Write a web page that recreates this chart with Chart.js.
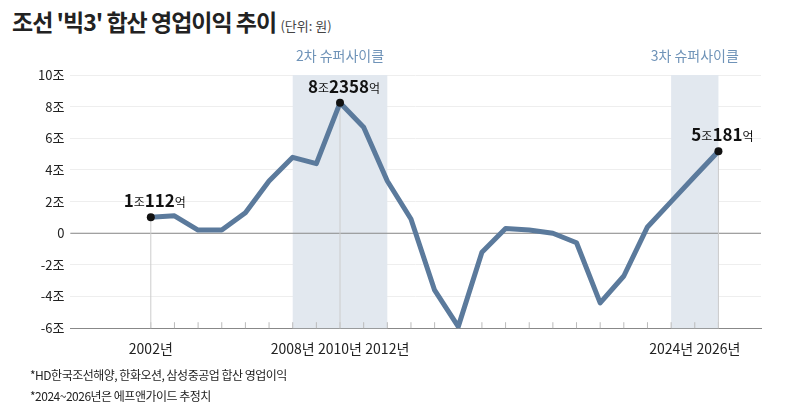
<!DOCTYPE html>
<html><head><meta charset="utf-8">
<script src="https://cdn.jsdelivr.net/npm/chart.js@4"></script>
<style>
body{margin:0;background:#fff;font-family:"Noto Sans CJK KR","Noto Sans",sans-serif;}
#wrap{position:relative;width:801px;height:420px;}
#title{position:absolute;left:12px;top:4px;font-size:23px;font-weight:bold;color:#222;letter-spacing:-1px}
#title span{font-size:13px;font-weight:normal;color:#444;letter-spacing:0}
.note{position:absolute;left:30px;font-size:12px;color:#222;letter-spacing:-0.5px}
canvas{position:absolute;left:0;top:0}
</style></head><body>
<div id="wrap">
<div id="title">조선 '빅3' 합산 영업이익 추이 <span>(단위: 원)</span></div>
<canvas id="c" width="801" height="420"></canvas>
<div class="note" style="top:366px">*HD한국조선해양, 한화오션, 삼성중공업 합산 영업이익</div>
<div class="note" style="top:387px">*2024~2026년은 에프앤가이드 추정치</div>
</div>
<script>
// 연도별 합산 영업이익 (조원)
var years = [2002,2003,2004,2005,2006,2007,2008,2009,2010,2011,2012,2013,2014,2015,2016,2017,2018,2019,2020,2021,2022,2023,2024,2025,2026];
var profits = [1.01,1.1,0.2,0.2,1.3,3.3,4.8,4.4,8.24,6.7,3.3,0.9,-3.6,-5.9,-1.2,0.3,0.2,0.0,-0.6,-4.4,-2.7,0.4,2.0,3.6,5.18];
var xLabels = [2002,2008,2010,2012,2024,2026];
var yTicks = [10,8,6,4,2,0,-2,-4,-6];
var bands = [[2008,2012,'2차 슈퍼사이클'],[2024,2026,'3차 슈퍼사이클']];
var callouts = [[2002,'1','조','112','억'],[2010,'8','조','2358','억'],[2026,'5','조','181','억']];

var deco = {
  id:'deco',
  beforeDatasetsDraw: function(chart){
    var ctx = chart.ctx, x = chart.scales.x, y = chart.scales.y, a = chart.chartArea;
    ctx.save();
    bands.forEach(function(b){
      var x0 = x.getPixelForValue(b[0]), x1 = x.getPixelForValue(b[1]);
      ctx.fillStyle = '#e2e8ef';
      ctx.fillRect(x0, y.getPixelForValue(10), x1-x0, y.getPixelForValue(-6)-y.getPixelForValue(10));
      ctx.fillStyle = '#6f93b8';
      ctx.font = '14px "Noto Sans CJK KR"';
      ctx.textAlign = 'center';
      ctx.fillText(b[2], (x0+x1)/2, y.getPixelForValue(10)-14);
    });
    // zero line
    ctx.strokeStyle = '#888'; ctx.lineWidth = 1;
    ctx.beginPath(); ctx.moveTo(a.left, y.getPixelForValue(0)); ctx.lineTo(a.right, y.getPixelForValue(0)); ctx.stroke();
    // year ticks on bottom axis
    ctx.strokeStyle = '#bbb';
    years.forEach(function(v){
      var px = x.getPixelForValue(v);
      ctx.beginPath(); ctx.moveTo(px, a.bottom); ctx.lineTo(px, a.bottom-6); ctx.stroke();
    });
    callouts.forEach(function(c){
      var i = years.indexOf(c[0]), px = x.getPixelForValue(c[0]), py = y.getPixelForValue(profits[i]);
      ctx.strokeStyle = '#ccc';
      ctx.beginPath(); ctx.moveTo(px, py); ctx.lineTo(px, a.bottom); ctx.stroke();
    });
    ctx.restore();
  },
  afterDatasetsDraw: function(chart){
    var ctx = chart.ctx, x = chart.scales.x, y = chart.scales.y;
    ctx.save();
    callouts.forEach(function(c){
      var i = years.indexOf(c[0]), px = x.getPixelForValue(c[0]), py = y.getPixelForValue(profits[i]);
      ctx.fillStyle = '#111';
      ctx.beginPath(); ctx.arc(px, py, 4, 0, Math.PI*2); ctx.fill();
      var big = 'bold 17px "Noto Sans CJK KR"', small = '12px "Noto Sans CJK KR"';
      var parts = [[c[1],big],[c[2],small],[c[3],big],[c[4],small]];
      var w = 0;
      parts.forEach(function(p){ ctx.font = p[1]; w += ctx.measureText(p[0]).width; });
      var sx = px - w/2 + 4;
      ctx.textBaseline = 'alphabetic';
      parts.forEach(function(p){ ctx.font = p[1]; ctx.fillText(p[0], sx, py-10); sx += ctx.measureText(p[0]).width; });
    });
    ctx.restore();
  }
};

new Chart(document.getElementById('c'), {
  type:'line',
  data:{ datasets:[{ data: years.map(function(v,i){return {x:v,y:profits[i]};}),
    borderColor:'#5b7a9c', borderWidth:5, pointRadius:0, tension:0, borderJoinStyle:'round' }]},
  options:{
    responsive:false, animation:false,
    layout:{padding:{top:75,left:32,right:40,bottom:59}},
    plugins:{legend:{display:false},tooltip:{enabled:false}},
    scales:{
      x:{type:'linear', min:1998.6, max:2027.8,
        afterBuildTicks:function(s){ s.ticks = xLabels.map(function(v){return {value:v};}); },
        ticks:{callback:function(v){return v+'년';}, color:'#222', font:{size:14, family:'"Noto Sans CJK KR"'}, maxRotation:0, autoSkip:false, padding:4},
        grid:{display:false}, border:{color:'#888'}},
      y:{min:-6, max:10,
        afterBuildTicks:function(s){ s.ticks = yTicks.map(function(v){return {value:v};}); },
        ticks:{callback:function(v){return v===0 ? '0' : v+'조';}, color:'#222', font:{size:13, family:'"Noto Sans CJK KR"'}, padding:6},
        grid:{color:'#eee', drawTicks:false}, border:{display:false}}
    }
  },
  plugins:[deco]
});
</script>
</body></html>
